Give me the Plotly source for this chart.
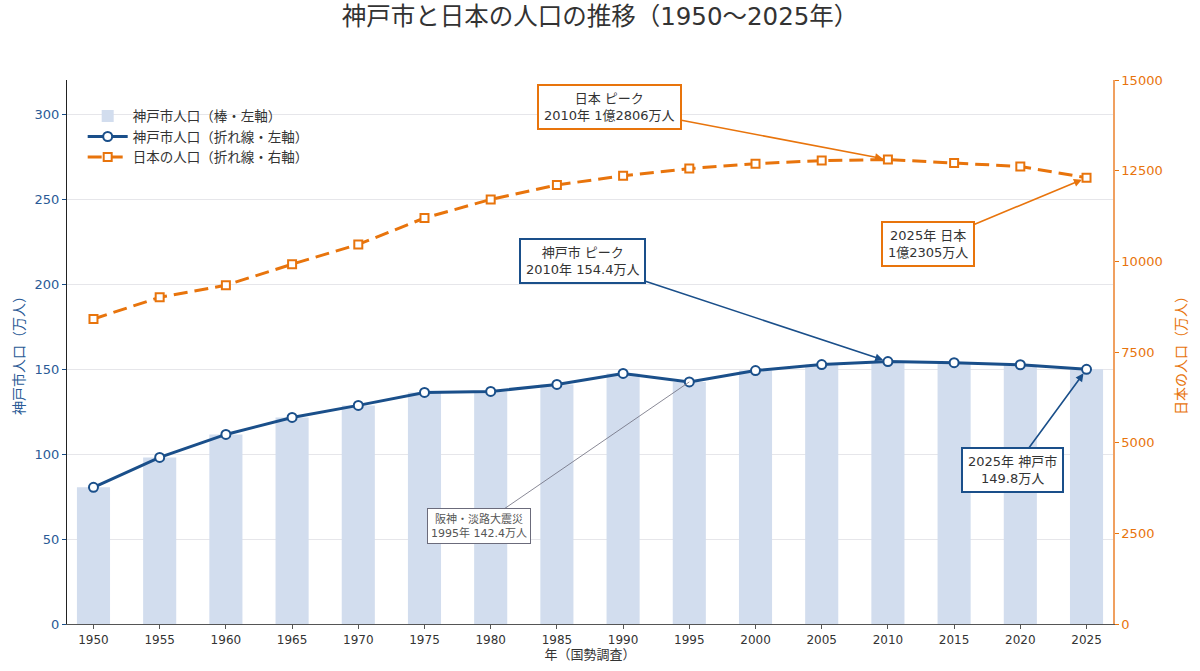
import plotly.graph_objects as go

years = [1950, 1955, 1960, 1965, 1970, 1975, 1980, 1985, 1990, 1995, 2000, 2005, 2010, 2015, 2020, 2025]
kobe = [80.4, 98.0, 111.5, 121.5, 128.6, 136.2, 136.8, 140.9, 147.4, 142.4, 149.1, 152.6, 154.4, 153.7, 152.5, 149.8]
japan = [8411, 9008, 9342, 9921, 10467, 11194, 11706, 12105, 12361, 12557, 12693, 12777, 12806, 12709, 12615, 12305]
left_ticks = [0, 50, 100, 150, 200, 250, 300]
right_ticks = [0, 2500, 5000, 7500, 10000, 12500, 15000]

BLUE = "#1a4f8a"
ORANGE = "#e8740c"
BAR = "#d2ddee"
FONT = "DejaVu Sans, Noto Sans CJK JP"

fig = go.Figure()
fig.add_trace(go.Bar(x=years, y=kobe, width=2.5, marker=dict(color=BAR, line=dict(width=0)),
                     name="神戸市人口（棒・左軸）", yaxis="y"))
fig.add_trace(go.Scatter(x=years, y=kobe, mode="lines+markers", name="神戸市人口（折れ線・左軸）",
                         line=dict(color=BLUE, width=3),
                         marker=dict(symbol="circle", size=9, color="white", line=dict(color=BLUE, width=2)),
                         yaxis="y"))
fig.add_trace(go.Scatter(x=years, y=japan, mode="lines+markers", name="日本の人口（折れ線・右軸）",
                         line=dict(color=ORANGE, width=3, dash="14px,7px"),
                         marker=dict(symbol="square", size=8, color="white", line=dict(color=ORANGE, width=2)),
                         yaxis="y2"))

def box_ann(x, y, yref, text, ax, ay, color, fs=13, width=2, arrow=True, fcolor="#333"):
    return dict(x=x, y=y, xref="x", yref=yref, text=text, showarrow=True, ax=ax, ay=ay,
                arrowhead=2 if arrow else 0, arrowsize=1, arrowwidth=1.6 if arrow else 0.8,
                arrowcolor=color, bordercolor=color, borderwidth=width,
                borderpad=5, bgcolor="white", font=dict(family=FONT, size=fs, color=fcolor),
                standoff=5 if arrow else 0)

anns = [
    box_ann(2010, japan[12], "y2", "日本 ピーク<br>2010年 1億2806万人", -278, -53, ORANGE),
    box_ann(2025, japan[15], "y2", "2025年 日本<br>1億2305万人", -159, 66, ORANGE),
    box_ann(2010, kobe[12], "y", "神戸市 ピーク<br>2010年 154.4万人", -305, -101, BLUE),
    box_ann(2025, kobe[15], "y", "2025年 神戸市<br>149.8万人", -74, 101, BLUE),
    box_ann(1995, kobe[9], "y", "阪神・淡路大震災<br>1995年 142.4万人", -210, 144, "#6b6b7b",
            fs=11, width=1, arrow=False, fcolor="#555"),
]
anns[4]["borderpad"] = 3

fig.update_layout(
    width=1200, height=671,
    margin=dict(l=67, r=87, t=80, b=47),
    paper_bgcolor="white", plot_bgcolor="white",
    font=dict(family=FONT, size=12, color="#333"),
    title=dict(text="神戸市と日本の人口の推移（1950〜2025年）", x=0.5, xanchor="center",
               y=0.988, yanchor="top", font=dict(size=24.5, color="#333")),
    xaxis=dict(range=[1948, 2027], tickmode="array", tickvals=years, ticks="outside", ticklen=4,
               tickcolor="#555", showgrid=False, showline=True, linecolor="#555", linewidth=1.2,
               tickfont=dict(size=12, color="#333"),
               title=dict(text="年（国勢調査）", font=dict(size=13, color="#333"), standoff=4)),
    yaxis=dict(range=[0, 320], tickmode="array", tickvals=left_ticks, ticks="outside", ticklen=4,
               tickcolor=BLUE, showgrid=True, gridcolor="#e6e6ea", gridwidth=1, zeroline=False,
               showline=True, linecolor="#222", linewidth=1.2,
               tickfont=dict(size=13, color="#2a5a96"),
               title=dict(text="神戸市人口（万人）", font=dict(size=14, color="#2a5a96"), standoff=6)),
    yaxis2=dict(range=[0, 15000], tickmode="array", tickvals=right_ticks,
                ticktext=[str(v) for v in right_ticks], overlaying="y",
                side="right", ticks="outside", ticklen=4, tickcolor=ORANGE, showgrid=False, zeroline=False,
                showline=True, linecolor="#f0a060", linewidth=1.5,
                tickfont=dict(size=13, color=ORANGE),
                title=dict(text="日本の人口（万人）", font=dict(size=14, color=ORANGE), standoff=14)),
    legend=dict(x=0.015, y=0.962, xanchor="left", yanchor="top", bgcolor="rgba(255,255,255,0)",
                font=dict(size=13.5, color="#333"), itemwidth=40),
    annotations=anns,
    showlegend=True,
)

fig.write_html("out.html")
